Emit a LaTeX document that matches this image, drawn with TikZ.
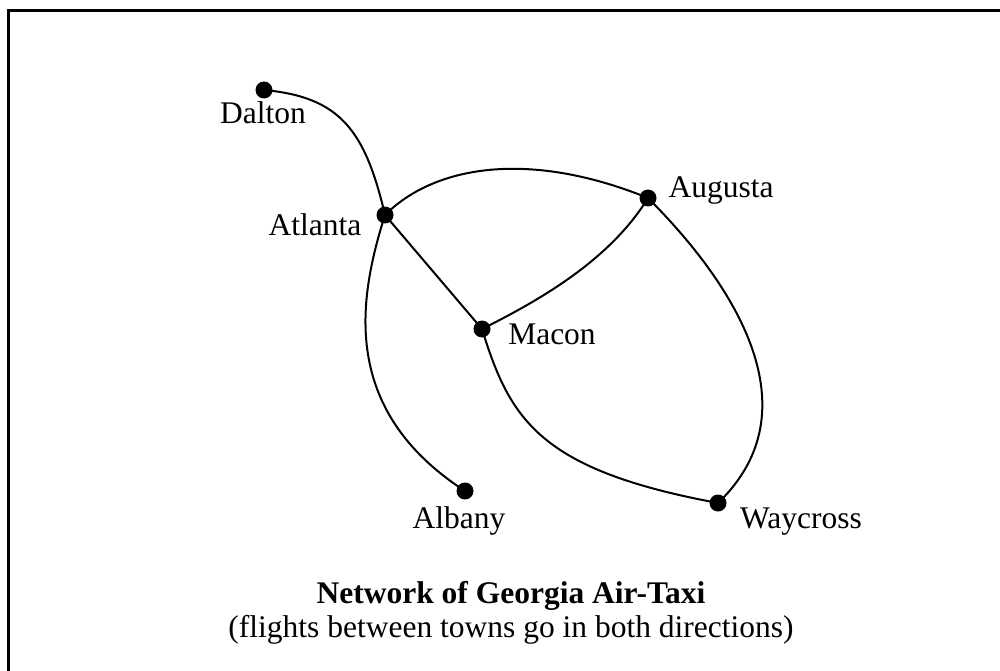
\documentclass[tikz,border=0pt]{standalone}
\usepackage{fontspec}
\setmainfont{Liberation Serif}
\begin{document}
\begin{tikzpicture}[x=1pt,y=-1pt,
  town/.style={circle,fill=black,inner sep=0pt,minimum size=17pt},
  lbl/.style={anchor=base,inner sep=0pt,font=\fontsize{31.5}{36}\selectfont},
  route/.style={line width=2pt}]
\useasboundingbox (0,0) rectangle (1000,671);
\coordinate (bl) at (8.5,672);
\coordinate (tl) at (8.5,11);
\coordinate (tr) at (1001,11);
\draw[line width=3pt] (bl) -- (tl) -- (tr);
% towns
\node[town] (dalton) at (264,90) {};
\node[town] (atlanta) at (385,215) {};
\node[town] (augusta) at (648,198) {};
\node[town] (macon) at (482,329) {};
\node[town] (albany) at (465,491) {};
\node[town] (waycross) at (718,503) {};
% labels
\node[lbl] (ldalton) at (263,124) {Dalton};
\node[lbl] (latlanta) at (315,235) {Atlanta};
\node[lbl] (laugusta) at (721,197) {Augusta};
\node[lbl] (lmacon) at (552,344) {Macon};
\node[lbl] (lalbany) at (459,528) {Albany};
\node[lbl] (lwaycross) at (801,528) {Waycross};
\node[lbl,font=\fontsize{31.5}{36}\selectfont\bfseries] (title) at (511,603) {Network of Georgia Air-Taxi};
\node[lbl] (sub) at (511,637) {(flights between towns go in both directions)};
% routes
\draw[route] (dalton.center) .. controls (340,97) and (365,130) .. (atlanta.center);
\draw[route] (atlanta.center) .. controls (435,165) and (530,150) .. (augusta.center);
\draw[route] (atlanta.center) -- (macon.center);
\draw[route] (macon.center) .. controls (540,300) and (610,260) .. (augusta.center);
\draw[route] (augusta.center) .. controls (735,285) and (815,410) .. (waycross.center);
\draw[route] (macon.center) .. controls (510,420) and (540,470) .. (waycross.center);
\draw[route] (atlanta.center) .. controls (358,300) and (340,410) .. (albany.center);
\end{tikzpicture}
\end{document}
